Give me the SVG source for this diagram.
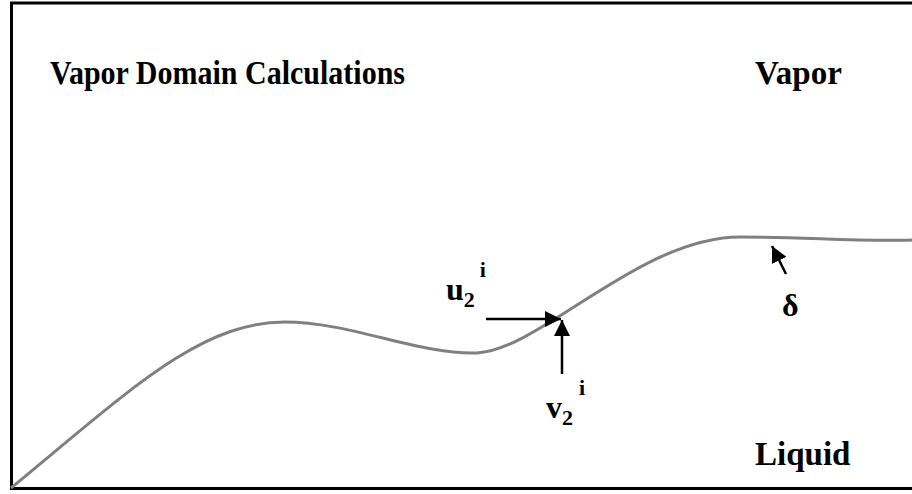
<svg xmlns="http://www.w3.org/2000/svg" width="912" height="494" viewBox="0 0 912 494">
<style>
text{font-family:'Liberation Serif','Times New Roman',serif;font-weight:bold;fill:#000}
.big{font-size:33px}
.sym{font-size:32px}
.sub{font-size:22px}
.arr{stroke:#000;stroke-width:2.5;fill:none}
</style>
<defs>
<marker id="ah" markerUnits="userSpaceOnUse" markerWidth="18" markerHeight="16" refX="16" refY="8" orient="auto">
<path d="M0,0 L16,8 L0,16 Z" fill="#000"/>
</marker>
</defs>
<rect width="912" height="494" fill="#fff"/>
<g id="frame">
<path d="M930,3 H11.5 V488.5 H930" fill="none" stroke="#000" stroke-width="3"/>
</g>
<g id="interface">
<path d="M11,488 C130,390 200,322 285,322 C350,322 420,355 477,353 C540,350 640,237 740,237 C805,237 860,242 912,240" fill="none" stroke="#808080" stroke-width="3"/>
</g>
<g id="labels">
<text class="big" x="50" y="84" textLength="355" lengthAdjust="spacingAndGlyphs">Vapor Domain Calculations</text>
<text class="big" x="755" y="84">Vapor</text>
<text class="big" x="755" y="465">Liquid</text>
<text class="sym" x="782" y="316">δ</text>
</g>
<g id="u-label">
<text class="sym" x="446" y="300">u<tspan class="sub" dy="7">2</tspan><tspan class="sub" dx="5" dy="-30">i</tspan></text>
</g>
<g id="v-label">
<text class="sym" x="546" y="418">v<tspan class="sub" dy="7">2</tspan><tspan class="sub" dx="6" dy="-30">i</tspan></text>
</g>
<g id="connectors">
<line class="arr" x1="486" y1="319" x2="561" y2="319" marker-end="url(#ah)"/>
<line class="arr" x1="562" y1="374" x2="562" y2="320" marker-end="url(#ah)"/>
<line class="arr" x1="786" y1="274" x2="772" y2="246" marker-end="url(#ah)"/>
</g>
</svg>
